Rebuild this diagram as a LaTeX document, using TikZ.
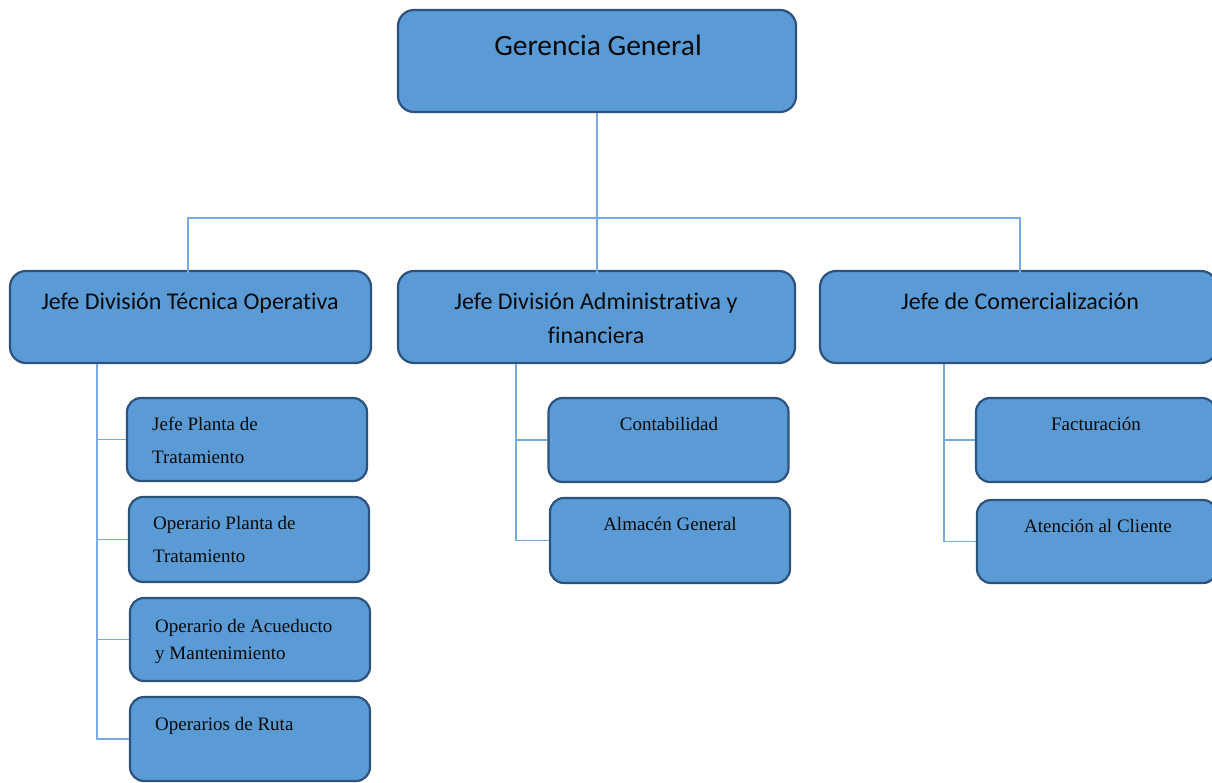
\documentclass[tikz,border=0pt]{standalone}
\usepackage{fontspec}
\setmainfont{Liberation Serif}
\newfontfamily\calibfont[Ligatures={NoCommon,NoContextual}]{Carlito}
\definecolor{boxfill}{RGB}{91,155,213}
\definecolor{boxline}{RGB}{44,82,125}
\definecolor{connline}{RGB}{120,170,222}
\definecolor{txt}{RGB}{10,10,10}
\tikzset{
  bigbox/.style={draw=boxline, fill=boxfill, line width=2.2pt, rounded corners=16pt, inner sep=0pt},
  smallbox/.style={draw=boxline, fill=boxfill, line width=2.2pt, rounded corners=14pt, inner sep=0pt, minimum width=240pt},
  conn/.style={draw=connline, line width=1.1pt},
  toptext/.style={text=txt, inner sep=0pt, font=\calibfont\fontsize{29.5}{34}\selectfont},
  headtext/.style={text=txt, inner sep=0pt, font=\calibfont\fontsize{24}{29}\selectfont},
  subtext/.style={text=txt, inner sep=0pt, font=\fontsize{19}{23}\selectfont}
}
\begin{document}
\begin{tikzpicture}[x=1pt,y=-1pt]
\useasboundingbox (0,0) rectangle (1212,782);
\begin{scope}
\clip (0,0) rectangle (1212,782);
% connector guides
\coordinate (bl) at (188,218);
\coordinate (br) at (1020,218);
\coordinate (xl) at (97,0);
\coordinate (xm) at (516,0);
\coordinate (xr) at (944,0);
% boxes
\node[bigbox, minimum width=398pt, minimum height=102pt] (g) at (597,61) {};
\node[bigbox, minimum width=361pt, minimum height=92pt] (a1) at (190.5,317) {};
\node[bigbox, minimum width=397pt, minimum height=92pt] (a2) at (596.5,317) {};
\node[bigbox, minimum width=397pt, minimum height=92pt] (a3) at (1018.5,317) {};
\node[smallbox, minimum height=83pt] (c1) at (247,439.5) {};
\node[smallbox, minimum height=85pt] (c2) at (249,539.5) {};
\node[smallbox, minimum height=83pt] (c3) at (250,639.5) {};
\node[smallbox, minimum height=84pt] (c4) at (250,739) {};
\node[smallbox, minimum height=84pt] (m1) at (668.5,440) {};
\node[smallbox, minimum height=85pt] (m2) at (670,540.5) {};
\node[smallbox, minimum height=84pt] (r1) at (1096,440) {};
\node[smallbox, minimum height=83pt] (r2) at (1097,541.5) {};
% lines
\draw[conn] (g.south) -- ([yshift=-4pt]g.south |- a2.north);
\draw[conn] ([yshift=-3pt]a1.north -| bl) -- (bl) -- (br) -- ([yshift=-3pt]a3.north -| br);
\draw[conn] (a1.south -| xl) |- (c1.west);
\draw[conn] (a1.south -| xl) |- (c2.west);
\draw[conn] (a1.south -| xl) |- (c3.west);
\draw[conn] (a1.south -| xl) |- (c4.west);
\draw[conn] (a2.south -| xm) |- (m1.west);
\draw[conn] (a2.south -| xm) |- (m2.west);
\draw[conn] (a3.south -| xr) |- (r1.west);
\draw[conn] (a3.south -| xr) |- (r2.west);
% texts
\node[toptext, anchor=base] (gt) at (598,55) {Gerencia General};
\node[headtext, anchor=base] (a1t) at (190,309) {Jefe División Técnica Operativa};
\node[headtext, anchor=base] (a2t) at (596,309) {Jefe División Administrativa y};
\node[headtext, anchor=base] (a2u) at (596,343) {financiera};
\node[headtext, anchor=base] (a3t) at (1020,309) {Jefe de Comercialización};
\node[subtext, anchor=base west] (c1t) at (152,430.5) {Jefe Planta de};
\node[subtext, anchor=base west] (c1u) at (152,463) {Tratamiento};
\node[subtext, anchor=base west] (c2t) at (153,529) {Operario Planta de};
\node[subtext, anchor=base west] (c2u) at (153,562) {Tratamiento};
\node[subtext, anchor=base west] (c3t) at (155,632) {Operario de Acueducto};
\node[subtext, anchor=base west] (c3u) at (155,659) {y Mantenimiento};
\node[subtext, anchor=base west] (c4t) at (155,730) {Operarios de Ruta};
\node[subtext, anchor=base] (m1t) at (669,430) {Contabilidad};
\node[subtext, anchor=base] (m2t) at (670,530) {Almacén General};
\node[subtext, anchor=base] (r1t) at (1096,430) {Facturación};
\node[subtext, anchor=base] (r2t) at (1098,532) {Atención al Cliente};
\end{scope}
\end{tikzpicture}
\end{document}
